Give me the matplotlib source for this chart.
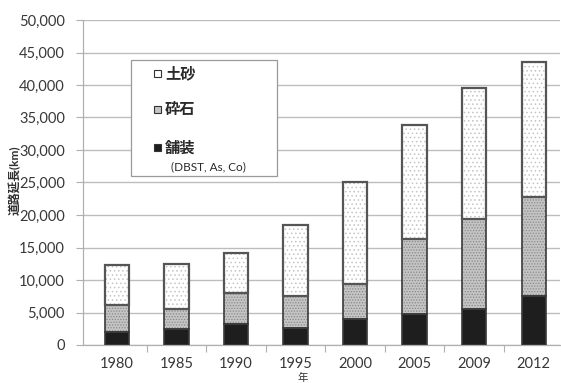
import matplotlib
matplotlib.use("Agg")
import matplotlib.pyplot as plt
from matplotlib.patches import Rectangle
import numpy as np

# Road length by surface type (km)
years = ["1980", "1985", "1990", "1995", "2000", "2005", "2009", "2012"]
paved = [2050, 2400, 3300, 2550, 3950, 4750, 5500, 7550]          # 舗装 (DBST, As, Co)
gravel_top = [6150, 5600, 8050, 7500, 9400, 16250, 19400, 22700]  # cumulative top of 砕石
total = [12250, 12450, 14100, 18500, 25100, 33900, 39600, 43600]  # cumulative top of 土砂
gravel = [g - p for g, p in zip(gravel_top, paved)]
soil = [t - g for t, g in zip(total, gravel_top)]

y_ticks = np.arange(0, 50001, 5000)

plt.rcParams["font.family"] = ["Lato", "Noto Sans CJK JP", "DejaVu Sans"]
plt.rcParams["hatch.linewidth"] = 0.6

W, H = 561, 383
fig = plt.figure(figsize=(W / 100, H / 100), dpi=100)
ax = fig.add_axes([83 / W, 38 / H, (560 - 83) / W, (345 - 20) / H])

x = np.arange(len(years))
bw = 0.41
edge = "#3a3a3a"

# fills with dotted texture
ax.bar(x, paved, bw, color="#1e1e1e", linewidth=0, zorder=3)
ax.bar(x, gravel, bw, bottom=paved, color="#c4c4c4", hatch="......",
       edgecolor="#8a8a8a", linewidth=0, zorder=3)
ax.bar(x, soil, bw, bottom=gravel_top, color="#ffffff", hatch="....",
       edgecolor="#c4c4c4", linewidth=0, zorder=3)
# segment outlines
ax.bar(x, paved, bw, fill=False, edgecolor=edge, linewidth=1.2, zorder=4)
ax.bar(x, gravel, bw, bottom=paved, fill=False, edgecolor=edge, linewidth=1.2, zorder=4)
ax.bar(x, soil, bw, bottom=gravel_top, fill=False, edgecolor="#555555", linewidth=1.6, zorder=4)

ax.set_xlim(-0.57, len(years) - 0.56)
ax.set_ylim(0, 50000)
ax.set_yticks(y_ticks)
ax.set_yticklabels([f"{v:,}" for v in y_ticks])
ax.set_xticks(x)
ax.set_xticklabels(years)
ax.set_xticks(np.arange(0.5, len(years) - 1), minor=True)
ax.tick_params(axis="x", which="major", length=0, pad=9, labelsize=10.5, labelcolor="#383838")
ax.tick_params(axis="x", which="minor", length=5, color="#b0b0b0", width=0.8)
ax.tick_params(axis="y", length=5, color="#b0b0b0", width=0.8, pad=8,
               labelsize=10.5, labelcolor="#383838")

ax.grid(axis="y", color="#bdbdbd", linewidth=1.0, zorder=0)
ax.set_axisbelow(True)
for s in ["top", "right"]:
    ax.spines[s].set_visible(False)
for s in ["left", "bottom"]:
    ax.spines[s].set_color("#b0b0b0")
    ax.spines[s].set_linewidth(0.9)

# axis titles
fig.text(15 / W, 1 - 180 / H, "道路延長(km)", rotation=90, ha="center", va="center",
         fontsize=8.5, color="#303030", fontweight="bold")
fig.text(303 / W, 1 - 378 / H, "年", ha="center", va="center", fontsize=7.5, color="#303030")

# legend box
tf = fig.transFigure
fig.patches.append(Rectangle((131 / W, 1 - 176 / H), (277 - 131) / W, (176 - 60) / H,
                             transform=tf, facecolor="white", edgecolor="#9a9a9a",
                             linewidth=0.9, zorder=10))
entries = [("土砂", "#ffffff", 73), ("砕石", "#c4c4c4", 109), ("舗装", "#1e1e1e", 148)]
for label, fc, yc in entries:
    s = 7
    fig.patches.append(Rectangle((154 / W, 1 - (yc + s / 2) / H), s / W, s / H,
                                 transform=tf, facecolor=fc, edgecolor="#333333",
                                 linewidth=0.8, zorder=11))
    fig.text(165 / W, 1 - yc / H, label, ha="left", va="center", fontsize=11,
             color="#2a2a2a", family=["Noto Sans CJK JP"], fontweight="bold", zorder=12)
fig.text(171 / W, 1 - 167 / H, "(DBST, As, Co)", ha="left", va="center", fontsize=8.5,
         color="#2a2a2a", zorder=12)

fig.savefig("out.png", dpi=100)
